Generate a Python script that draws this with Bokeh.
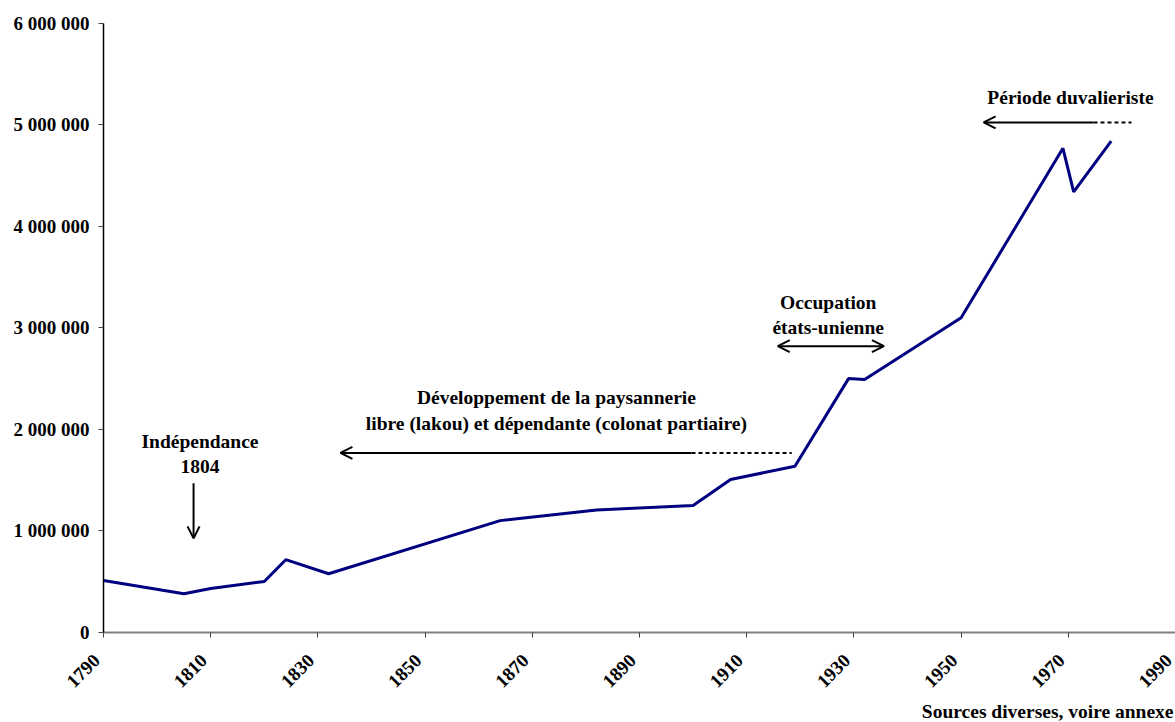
import math
from bokeh.plotting import figure
from bokeh.models import Range1d, FixedTicker, Label, Arrow, OpenHead
from bokeh.embed import file_html
from bokeh.resources import INLINE

# ---- data ----
years = [1790, 1805, 1810, 1820, 1824, 1832, 1864, 1882, 1900, 1907, 1919, 1929, 1932, 1950, 1969, 1971, 1978]
population = [510000, 380000, 430000, 500000, 715000, 576000, 1100000, 1205000, 1250000, 1505000,
              1636000, 2500000, 2490000, 3100000, 4770000, 4340000, 4840000]

x_ticks = [1790, 1810, 1830, 1850, 1870, 1890, 1910, 1930, 1950, 1970, 1990]
x_tick_labels = [str(t) for t in x_ticks]
y_ticks = [0, 1000000, 2000000, 3000000, 4000000, 5000000, 6000000]
y_tick_labels = ["0", "1 000 000", "2 000 000", "3 000 000", "4 000 000", "5 000 000", "6 000 000"]

FONT = "Liberation Serif"
FS = "19.5px"

# the frame covers the whole page; the axes are fixed at x = 1790 and y = 0
p = figure(width=1175, height=722, output_backend="svg", toolbar_location=None,
           x_range=Range1d(1770.78, 1990), y_range=Range1d(-890000, 6227000),
           min_border_left=0, min_border_right=0, min_border_top=0, min_border_bottom=0)
p.outline_line_color = None
p.xgrid.visible = False
p.ygrid.visible = False
p.background_fill_color = "white"

p.line(years, population, line_color="#000080", line_width=3)

# axes
p.xaxis.fixed_location = 0
p.xaxis.bounds = (1790, 1990)
p.xaxis.ticker = FixedTicker(ticks=x_ticks)
p.xaxis.major_label_text_color = None
p.xaxis.axis_line_color = "#808080"
p.xaxis.axis_line_width = 2
p.xaxis.major_tick_line_color = "#404040"

p.yaxis.fixed_location = 1790
p.yaxis.bounds = (0, 6000000)
p.yaxis.ticker = FixedTicker(ticks=y_ticks)
p.yaxis.major_label_overrides = {t: l for t, l in zip(y_ticks, y_tick_labels)}
p.yaxis.axis_line_color = "black"
p.yaxis.axis_line_width = 1.5
p.yaxis.major_tick_line_color = "#404040"
p.yaxis.major_label_standoff = 9
p.yaxis.major_label_text_font = FONT
p.yaxis.major_label_text_font_style = "bold"
p.yaxis.major_label_text_font_size = "19px"
p.yaxis.major_label_text_color = "black"

for ax in (p.xaxis[0], p.yaxis[0]):
    ax.minor_tick_line_color = None
    ax.major_tick_in = 0
    ax.major_tick_out = 5

# rotated x tick labels, ending just left of each tick
for t, l in zip(x_ticks, x_tick_labels):
    p.add_layout(Label(x=t, y=0, text=l, angle=math.pi / 4, text_align="right",
                       text_baseline="middle", x_offset=-7, y_offset=-25,
                       text_font=FONT, text_font_style="bold", text_font_size="19px",
                       text_color="black"))

# annotations (text)
def lab(x, y, t):
    p.add_layout(Label(x=x, y=y, text=t, text_font=FONT, text_font_style="bold",
                       text_font_size=FS, text_align="center", text_baseline="middle",
                       text_color="black"))

lab(1808, 1876000, "Indépendance")
lab(1808, 1629000, "1804")
lab(1874.5, 2314000, "Développement de la paysannerie")
lab(1874.5, 2057000, "libre (lakou) et dépendante (colonat partiaire)")
lab(1925.2, 3248000, "Occupation")
lab(1925.2, 3001000, "états-unienne")
lab(1970.4, 5266000, "Période duvalieriste")

def head():
    return OpenHead(size=12, line_width=2, line_color="black")

# Indépendance arrow
p.add_layout(Arrow(x_start=1806.8, y_start=1468000, x_end=1806.8, y_end=925000,
                   end=head(), line_width=2, line_color="black"))
# Développement arrow
p.add_layout(Arrow(x_start=1899.7, y_start=1767000, x_end=1834.2, y_end=1767000,
                   end=head(), line_width=2, line_color="black"))
p.add_layout(Arrow(x_start=1899.7, y_start=1767000, x_end=1918.4, y_end=1767000,
                   end=None, line_width=2, line_color="black", line_dash="4 3"))
# Occupation double arrow
p.add_layout(Arrow(x_start=1915.8, y_start=2820000, x_end=1935.6, y_end=2820000,
                   start=head(), end=head(), line_width=2, line_color="black"))
# Duvalier arrow
p.add_layout(Arrow(x_start=1974.7, y_start=5025000, x_end=1954.2, y_end=5025000,
                   end=head(), line_width=2, line_color="black"))
p.add_layout(Arrow(x_start=1974.7, y_start=5025000, x_end=1981.8, y_end=5025000,
                   end=None, line_width=2, line_color="black", line_dash="4 3"))

# source note under the axis, right aligned
p.add_layout(Label(x=1990, y=0, text="Sources diverses, voire annexe", text_align="right",
                   text_baseline="middle", x_offset=-2, y_offset=-79,
                   text_font=FONT, text_font_style="bold", text_font_size=FS,
                   text_color="black"))

open("out.html", "w").write(file_html(p, INLINE))
